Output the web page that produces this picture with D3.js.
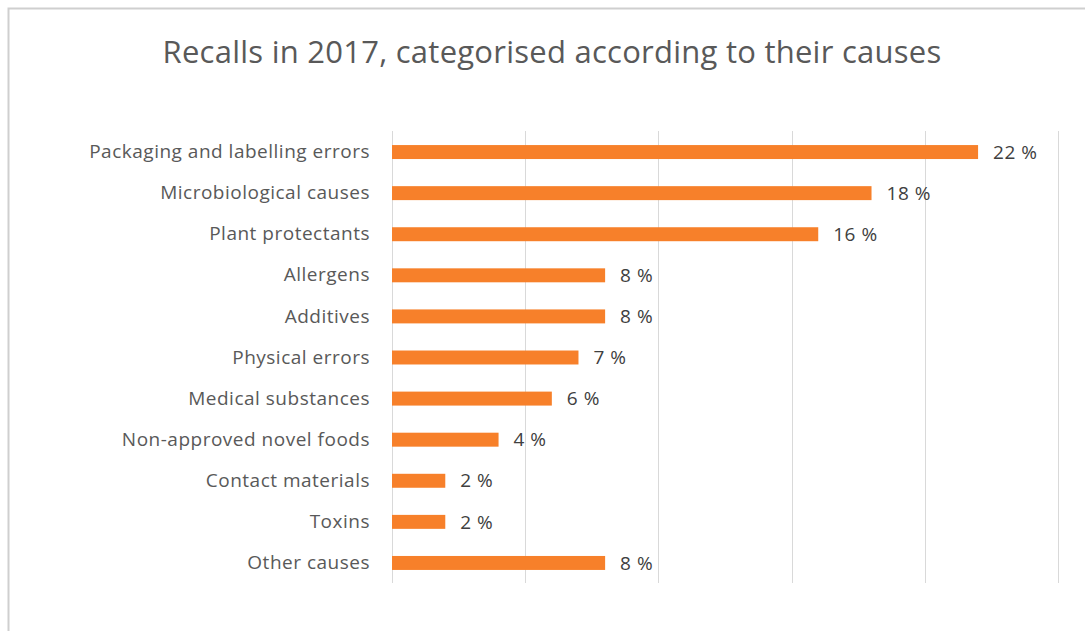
<!DOCTYPE html>
<html>
<head>
<meta charset="utf-8">
<script src="https://cdn.jsdelivr.net/npm/d3@7"></script>
<style>
  html, body { margin: 0; padding: 0; background: #fff; }
  svg { display: block; }
</style>
</head>
<body>
<svg id="chart" width="1085" height="631"></svg>
<script>
// Recall causes and their share of all recalls (percent)
const categories = [
  "Packaging and labelling errors",
  "Microbiological causes",
  "Plant protectants",
  "Allergens",
  "Additives",
  "Physical errors",
  "Medical substances",
  "Non-approved novel foods",
  "Contact materials",
  "Toxins",
  "Other causes"
];
const shares = [22, 18, 16, 8, 8, 7, 6, 4, 2, 2, 8];
const gridTicks = [0, 5, 10, 15, 20, 25];
const titleText = "Recalls in 2017, categorised according to their causes";

const data = categories.map((c, i) => ({ cause: c, value: shares[i] }));

const svg = d3.select("#chart");
const W = 1085, H = 631;
const font = "'Open Sans', 'DejaVu Sans', sans-serif";

// chart frame
svg.append("rect").attr("x", 0).attr("y", 0).attr("width", W).attr("height", H).attr("fill", "#fff");
svg.append("path")
  .attr("d", `M8.5,${H} L8.5,8.5 L${W},8.5`)
  .attr("fill", "none").attr("stroke", "#cfcfcf").attr("stroke-width", 2);

const plot = { left: 392, right: 1058, top: 131, bottom: 583 };

const x = d3.scaleLinear().domain([0, 25]).range([plot.left, plot.right]);
const y = d3.scaleBand().domain(categories).range([plot.top + 0.5, plot.bottom + 0.5]).paddingInner(0.66).paddingOuter(0.33);

// vertical gridlines
svg.append("g").selectAll("line").data(gridTicks).join("line")
  .attr("x1", d => Math.round(x(d)) + 0.5).attr("x2", d => Math.round(x(d)) + 0.5)
  .attr("y1", plot.top).attr("y2", plot.bottom)
  .attr("stroke", "#d9d9d9").attr("stroke-width", 1);

// title
svg.append("text")
  .attr("x", 552).attr("y", 63)
  .attr("text-anchor", "middle")
  .attr("font-family", font).attr("font-size", 31)
  .attr("letter-spacing", 0.25)
  .attr("fill", "#595959")
  .text(titleText);

// category axis
const yAxis = d3.axisLeft(y).tickSize(0).tickPadding(22);
const ga = svg.append("g").attr("transform", `translate(${plot.left},0)`).call(yAxis);
ga.select(".domain").remove();
ga.selectAll("text")
  .attr("font-family", font).attr("font-size", 19)
  .attr("letter-spacing", 0.5)
  .attr("fill", "#595959");

// bars
svg.append("g").selectAll("rect").data(data).join("rect")
  .attr("x", x(0))
  .attr("y", d => y(d.cause))
  .attr("width", d => x(d.value) - x(0))
  .attr("height", y.bandwidth())
  .attr("fill", "#f7802a");

// value labels
svg.append("g").selectAll("text").data(data).join("text")
  .attr("x", d => x(d.value) + 15)
  .attr("y", d => y(d.cause) + y.bandwidth() / 2)
  .attr("dy", "0.35em")
  .attr("font-family", font).attr("font-size", 19)
  .attr("letter-spacing", 0.5)
  .attr("fill", "#404040")
  .text(d => d.value + " %");
</script>
</body>
</html>
